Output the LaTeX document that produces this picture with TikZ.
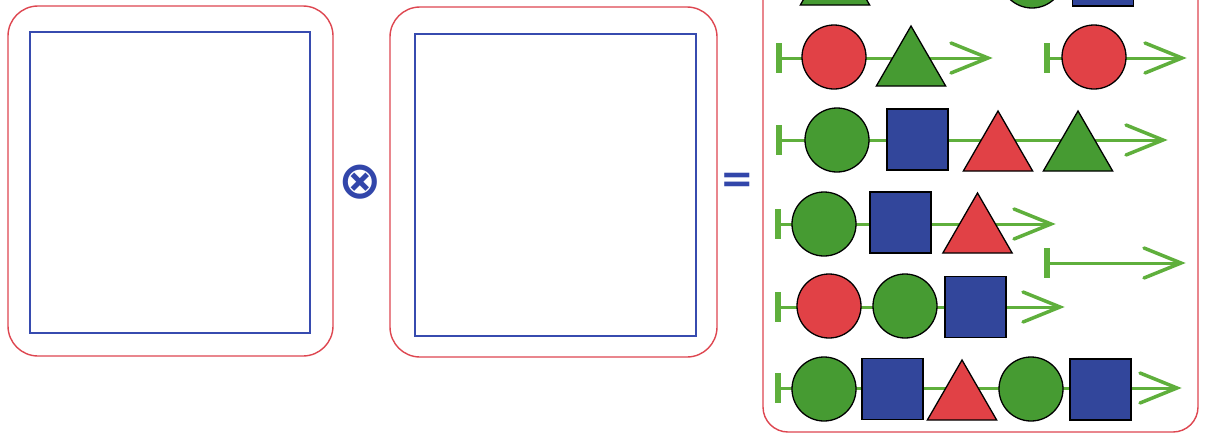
\documentclass[tikz,border=0pt]{standalone}
\usepackage{fontspec}
\newfontfamily\symfont{DejaVu Sans}
\usetikzlibrary{shapes.geometric,backgrounds}
\definecolor{framered}{RGB}{222,70,80}
\definecolor{boxblue}{RGB}{55,75,175}
\definecolor{shgreen}{RGB}{70,155,50}
\definecolor{shred}{RGB}{225,65,70}
\definecolor{shblue}{RGB}{50,70,155}
\definecolor{lngreen}{RGB}{95,175,60}
\definecolor{symblue}{RGB}{50,70,170}
\begin{document}
\begin{tikzpicture}[x=1pt,y=-1pt,
  frame/.style={draw=framered,line width=1.4pt,rounded corners=30pt},
  inbox/.style={draw=boxblue,line width=2.8pt},
  circ/.style={circle,draw=black,line width=1.3pt,inner sep=0pt,minimum size=64pt},
  sq/.style={rectangle,draw=black,line width=1.3pt,inner sep=0pt,minimum size=61pt,fill=shblue},
  tri/.style={regular polygon,regular polygon sides=3,draw=black,line width=1.3pt,inner sep=0pt,minimum size=80pt},
  gc/.style={circ,fill=shgreen}, rc/.style={circ,fill=shred},
  gt/.style={tri,fill=shgreen}, rt/.style={tri,fill=shred},
  trackline/.style={draw=lngreen,line width=3pt},
  trackbar/.style={draw=lngreen,line width=5.5pt},
  trackhead/.style={draw=lngreen,line width=3.5pt,line cap=round,line join=miter},
  sym/.style={text=symblue,inner sep=0pt,font=\symfont\bfseries},
]
\useasboundingbox (0,0) rectangle (1205,437);
\clip (0,0) rectangle (1205,437);

% left factor
\draw[frame] (8,6) rectangle (333,356);
\draw[inbox] (30,32) rectangle (310,333);
% operator
\node[sym,font=\symfont\bfseries\fontsize{52}{56}\selectfont] (ot) at (360,182) {⊗};
% right factor
\draw[frame] (390,7) rectangle (717,357);
\draw[inbox] (415,34) rectangle (696,336);
% equals
\node[sym,font=\symfont\bfseries\fontsize{40}{44}\selectfont] (eq) at (737,183) {=};
% result frame
\draw[frame,rounded corners=25pt] (763,-60) rectangle (1198,432);

% row 0 (cut off)
\node[gt] (r0a) at (835,-15) {};
\node[gc] (r0b) at (1032,-24) {};
\node[sq] (r0c) at (1103,-24.5) {};

% row 1
\coordinate (s1) at (779,58); \coordinate (e1) at (988,58);
\node[rc] (r1a) at (834,57) {};
\node[gt] (r1b) at (911,66) {};
\coordinate (s1b) at (1047,58); \coordinate (e1b) at (1182,58);
\node[rc] (r1c) at (1094,57) {};

% row 2
\coordinate (s2) at (779,140); \coordinate (e2) at (1163,140);
\node[gc] (r2a) at (837,140) {};
\node[sq] (r2b) at (917.5,139.5) {};
\node[rt] (r2c) at (998,151) {};
\node[gt] (r2d) at (1078,151) {};

% row 3
\coordinate (s3) at (778,224); \coordinate (e3) at (1051,224);
\node[gc] (r3a) at (824,224) {};
\node[sq] (r3b) at (900.5,222.5) {};
\node[rt] (r3c) at (977.5,233) {};
\coordinate (s3b) at (1047,263); \coordinate (e3b) at (1181,263);

% row 4
\coordinate (s4) at (778,307); \coordinate (e4) at (1060,307);
\node[rc] (r4a) at (829,306) {};
\node[gc] (r4b) at (905,306) {};
\node[sq] (r4c) at (975.5,307) {};

% row 5
\coordinate (s5) at (778,388); \coordinate (e5) at (1177,388);
\node[gc] (r5a) at (824,389) {};
\node[sq] (r5b) at (892.5,389) {};
\node[rt] (r5c) at (962,400) {};
\node[gc] (r5d) at (1031,389) {};
\node[sq] (r5e) at (1100.5,389.5) {};

\begin{pgfonlayer}{background}
\fill[white] (0,0) rectangle (1205,437);
\foreach \s/\e in {s1/e1,s1b/e1b,s2/e2,s3/e3,s3b/e3b,s4/e4,s5/e5}{
  \draw[trackline] (\s) -- (\e);
  \draw[trackbar] (\s) ++(0,-15) -- ++(0,30);
  \draw[trackhead] (\e) ++(-37,-15) -- (\e) -- ++(-37,15);
}
\end{pgfonlayer}
\end{tikzpicture}
\end{document}
